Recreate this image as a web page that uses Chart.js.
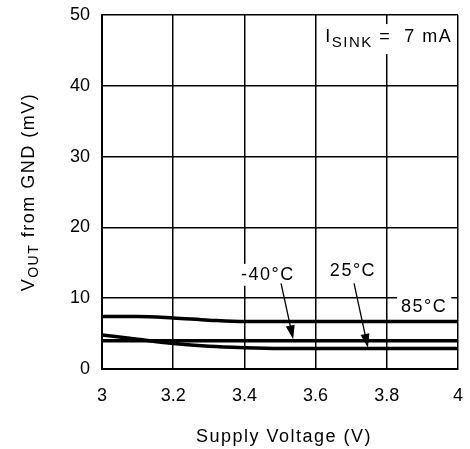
<!DOCTYPE html>
<html>
<head>
<meta charset="utf-8">
<script src="https://cdn.jsdelivr.net/npm/chart.js@4.4.1/dist/chart.umd.min.js"></script>
<style>
  html, body { margin: 0; padding: 0; background: #fff; }
  #wrap { width: 470px; height: 449px; }
</style>
</head>
<body>
<div id="wrap"><canvas id="chart"></canvas></div>
<script>
const supplyVoltage = [3, 3.1, 3.2, 3.3, 3.4, 3.5, 3.6, 3.7, 3.8, 3.9, 4];
const vout85C  = [7.4, 7.4, 7.2, 6.9, 6.7, 6.7, 6.7, 6.7, 6.7, 6.7, 6.7];
const vout25C  = [4.8, 4.2, 3.6, 3.2, 3.0, 2.9, 2.9, 2.9, 2.9, 2.9, 2.9];
const voutM40C = [4.0, 4.0, 4.0, 4.0, 4.0, 4.0, 4.0, 4.0, 4.0, 4.0, 4.0];
const yTicks = [0, 10, 20, 30, 40, 50];
const xTicks = [3, 3.2, 3.4, 3.6, 3.8, 4];

const FONT = "'Liberation Sans', Arial, sans-serif";

function toPoints(values) {
	return supplyVoltage.map(function(x, i) { return { x: x, y: values[i] }; });
}

// labels and arrows placed in data coordinates
const labels = [
	{ text: '-40\u00B0C', x: 3.466, y: 13.3 },
	{ text: '25\u00B0C',  x: 3.705, y: 13.9 },
	{ text: '85\u00B0C',  x: 3.905, y: 8.7 }
];
const arrows = [
	{ x1: 3.503, y1: 12.1, x2: 3.537, y2: 4.2 },
	{ x1: 3.708, y1: 12.1, x2: 3.747, y2: 3.0 }
];

// draws a list of text runs [{t, f, dy}] centred on x
function drawRuns(c, parts, x, y) {
	let total = 0;
	parts.forEach(function(p) { c.font = p.f + 'px ' + FONT; total += c.measureText(p.t).width; });
	let ox = x - total / 2;
	c.textAlign = 'left';
	parts.forEach(function(p) {
		c.font = p.f + 'px ' + FONT;
		c.fillText(p.t, ox, y + p.dy);
		ox += c.measureText(p.t).width;
	});
	return total;
}

const annotate = {
	id: 'annotate',
	afterDatasetsDraw: function(chart) {
		const c = chart.ctx;
		const xs = chart.scales.x, ys = chart.scales.y;
		c.save();
		c.letterSpacing = '1.5px';
		c.font = '18px ' + FONT;
		c.textAlign = 'center';
		c.textBaseline = 'middle';
		labels.forEach(function(l) {
			const px = xs.getPixelForValue(l.x), py = ys.getPixelForValue(l.y);
			const w = c.measureText(l.text).width;
			c.fillStyle = '#fff';
			c.fillRect(px - w / 2 - 4, py - 11, w + 8, 22);
			c.fillStyle = '#000';
			c.fillText(l.text, px, py);
		});
		arrows.forEach(function(a) {
			const x1 = xs.getPixelForValue(a.x1), y1 = ys.getPixelForValue(a.y1);
			const x2 = xs.getPixelForValue(a.x2), y2 = ys.getPixelForValue(a.y2);
			const ang = Math.atan2(y2 - y1, x2 - x1);
			c.strokeStyle = '#000';
			c.lineWidth = 1.3;
			c.beginPath();
			c.moveTo(x1, y1);
			c.lineTo(x2 - 8 * Math.cos(ang), y2 - 8 * Math.sin(ang));
			c.stroke();
			c.fillStyle = '#000';
			c.beginPath();
			c.moveTo(x2, y2);
			c.lineTo(x2 - 14 * Math.cos(ang) + 4.5 * Math.sin(ang), y2 - 14 * Math.sin(ang) - 4.5 * Math.cos(ang));
			c.lineTo(x2 - 14 * Math.cos(ang) - 4.5 * Math.sin(ang), y2 - 14 * Math.sin(ang) + 4.5 * Math.cos(ang));
			c.closePath();
			c.fill();
		});

		// I_SINK = 7 mA box
		const bx = xs.getPixelForValue(3.8), by = ys.getPixelForValue(46.6);
		c.fillStyle = '#fff';
		c.fillRect(bx - 62, by - 15, 128, 30);
		c.fillStyle = '#000';
		drawRuns(c, [
			{ t: 'I', f: 18, dy: -2 },
			{ t: 'SINK', f: 15, dy: 4 },
			{ t: ' =  7 mA', f: 18, dy: -2 }
		], bx + 2, by);

		// x axis title
		c.textAlign = 'center';
		c.font = '18px ' + FONT;
		c.fillText('Supply Voltage (V)', (chart.chartArea.left + chart.chartArea.right) / 2 + 4, 437);

		// y axis title with subscript
		const ty = (chart.chartArea.top + chart.chartArea.bottom) / 2;
		c.translate(29, ty);
		c.rotate(-Math.PI / 2);
		drawRuns(c, [
			{ t: 'V', f: 18, dy: 0 },
			{ t: 'OUT', f: 14, dy: 5 },
			{ t: ' from GND (mV)', f: 18, dy: 0 }
		], 0, 0);
		c.restore();
	}
};

function series(values) {
	return {
		data: toPoints(values),
		borderColor: '#000',
		borderWidth: 3.5,
		pointRadius: 0,
		cubicInterpolationMode: 'monotone',
		fill: false
	};
}

new Chart(document.getElementById('chart'), {
	type: 'line',
	data: {
		datasets: [series(vout85C), series(vout25C), series(voutM40C)]
	},
	options: {
		responsive: true,
		maintainAspectRatio: false,
		animation: false,
		layout: { padding: { top: 15, right: 12, left: 0, bottom: 0 } },
		plugins: { legend: { display: false }, tooltip: { enabled: false } },
		scales: {
			x: {
				type: 'linear',
				min: 3,
				max: 4,
				afterBuildTicks: function(axis) { axis.ticks = xTicks.map(function(v) { return { value: v }; }); },
				afterFit: function(axis) {
					axis.height = 80;
					axis.paddingLeft = 0;
					axis.paddingRight = 0;
				},
				grid: { color: '#000', lineWidth: 1.5, drawTicks: false },
				border: { color: '#000', width: 2 },
				ticks: {
					color: '#000',
					padding: 16,
					maxRotation: 0,
					font: { family: FONT, size: 18 },
					callback: function(v) { return String(Number(v.toFixed(1))); }
				}
			},
			y: {
				min: 0,
				max: 50,
				afterBuildTicks: function(axis) { axis.ticks = yTicks.map(function(v) { return { value: v }; }); },
				afterFit: function(axis) {
					axis.width = 102;
					axis.paddingTop = 0;
					axis.paddingBottom = 0;
				},
				grid: { color: '#000', lineWidth: 1.5, drawTicks: false },
				border: { color: '#000', width: 2 },
				ticks: {
					color: '#000',
					padding: 12,
					font: { family: FONT, size: 18 }
				}
			}
		}
	},
	plugins: [annotate]
});
</script>
</body>
</html>
